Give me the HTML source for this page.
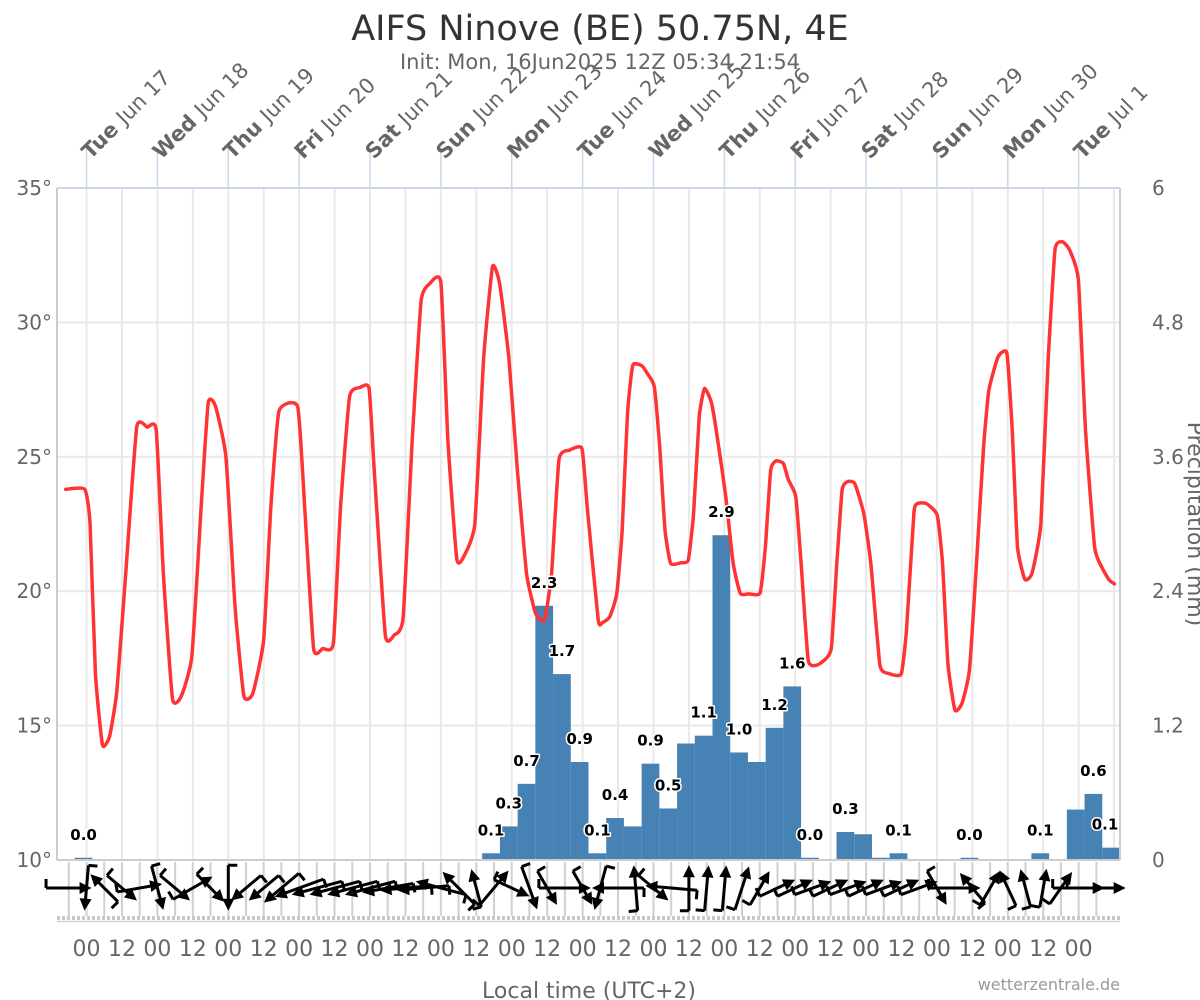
<!DOCTYPE html>
<html><head><meta charset="utf-8"><title>AIFS Ninove</title>
<style>
html,body{margin:0;padding:0;background:#fff;}
svg{display:block;font-family:"DejaVu Sans","Liberation Sans",sans-serif;}
</style></head>
<body>
<svg id="chart" width="1200" height="1000" viewBox="0 0 1200 1000" xmlns="http://www.w3.org/2000/svg">
<rect x="0" y="0" width="1200" height="1000" fill="#fff"/>
<text x="600" y="40" text-anchor="middle" font-size="35" fill="#333">AIFS Ninove (BE) 50.75N, 4E</text>
<text x="600" y="69" text-anchor="middle" font-size="21" fill="#666">Init: Mon, 16Jun2025 12Z 05:34 21:54</text>
<g id="grid"></g>
<g id="bars"></g>
<g id="temp"></g>
<g id="barlabels"></g>
<g id="wind"></g>
<g id="axes"></g>
<text x="589" y="998" text-anchor="middle" font-size="22" fill="#666">Local time (UTC+2)</text>
<text x="1120" y="990" text-anchor="end" font-size="16" fill="#999">wetterzentrale.de</text>
<text transform="translate(1188,524) rotate(90)" text-anchor="middle" font-size="22" fill="#666">Precipitation (mm)</text>
</svg>
<script>
// ---- data ----
const tempHours = [2.95,9.4,11.2,13.0,15.4,17.8,20.3,23.3,27.0,30.6,33.6,36.0,39.1,42.1,45.7,48.8,51.2,53.6,57.2,60.3,63.3,66.3,70.0,72.4,75.2,81.5,83.9,86.9,90.0,93.6,96.0,99.1,102.7,105.7,107.5,111.2,114.2,117.2,120.3,123.3,126.3,130.0,132.4,135.4,137.8,141.5,144.5,147.5,149.9,153.0,156.0,159.0,162.1,165.1,167.5,170.0,173.6,177.8,179.6,183.3,
184.7,187.2,189.6,191.4,193.2,195.0,198.1,199.9,202.3,204.1,205.9,207.8,211.4,213.8,215.6,217.5,219.3,221.7,224.1,226.5,229.0,231.4,234.4,238.1,239.9,241.7,243.5,246.0,247.7,250.2,252.0,254.4,257.4,260.5,262.3,264.1,265.9,267.8,270.2,273.2,275.6,278.7,281.7,285.9,287.7,290.2,291.4,294.4,298.1,299.9,301.7,304.1,306.5,309.0,311.4,313.8,315.6,318.7,321.7,323.5,325.3,327.8,330.2,333.2,335.6,338.0,340.5,342.9,345.9,348.3,351.4,353.8,356.3,358.1];
const temps = [23.79,23.79,22.5,16.95,14.28,14.6,16.3,20.7,26.1,26.1,26.0,20.7,16.0,16.1,17.6,23.1,27.0,26.9,25.0,19.4,16.1,16.2,18.2,23.1,26.7,26.86,23.1,17.87,17.87,18.06,23.1,27.24,27.58,27.54,24.4,18.37,18.37,19.0,25.6,30.8,31.45,31.48,25.6,21.2,21.3,22.5,28.7,32.07,31.45,28.7,24.4,20.67,19.17,18.93,20.67,24.9,25.25,25.3,23.1,18.93,
18.83,19.05,19.92,22.28,26.6,28.4,28.38,28.1,27.6,25.38,22.28,21.04,21.06,21.16,22.9,26.49,27.54,26.99,25.37,23.51,21.04,19.92,19.9,19.94,21.65,24.5,24.85,24.75,24.14,23.51,21.04,17.44,17.25,17.5,17.93,21.04,23.77,24.08,24.0,22.9,21.04,17.25,16.94,16.92,18.56,22.9,23.26,23.26,22.83,21.04,17.32,15.58,15.83,17.07,21.04,25.37,27.48,28.72,28.85,26.0,21.65,20.44,20.67,22.52,28.48,32.7,33.0,32.7,31.58,26.0,21.65,20.9,20.42,20.27];
const precipIndex = [1,24,25,26,27,28,29,30,31,32,33,34,35,36,37,38,39,40,41,42,44,45,46,47,51,55,57,58,59];
const precipValues = [0.02,0.06,0.30,0.68,2.27,1.66,0.875,0.06,0.375,0.30,0.86,0.46,1.04,1.11,2.9,0.96,0.875,1.18,1.55,0.02,0.25,0.23,0.02,0.06,0.02,0.06,0.45,0.59,0.11];
const precipShowLabel = [1,1,1,1,1,1,1,1,1,0,1,1,0,1,1,1,0,1,1,1,1,0,0,1,1,1,0,1,1];
const windDir = [0,95,-135,40,-10,75,40,-30,45,90,140,140,140,160,165,165,165,165,170,175,175,195,-135,-105,-50,25,70,60,0,60,105,180,-95,40,185,-90,-85,-85,-72,-60,-25,-25,-20,-25,-20,-25,-20,-25,-20,60,0,-130,-60,-115,-105,-80,-55,0,0];
const windSpeed = [7,7,6,6,7,7,6,7,6,7,6,6,7,8,8,8,8,8,8,8,8,8,7,6,7,6,7,6,8,6,7,8,7,6,8,7,7,7,7,6,6,6,6,6,6,6,6,6,6,6,8,6,6,6,6,6,6,8,9];
const tempTicks = [10,15,20,25,30,35];
const precipTicks = ["0","1.2","2.4","3.6","4.8","6"];
const dayNames = ["Tue","Wed","Thu","Fri","Sat","Sun","Mon","Tue","Wed","Thu","Fri","Sat","Sun","Mon","Tue"];
const dayDates = ["Jun 17","Jun 18","Jun 19","Jun 20","Jun 21","Jun 22","Jun 23","Jun 24","Jun 25","Jun 26","Jun 27","Jun 28","Jun 29","Jun 30","Jul 1"];
const hourLabels = ["00","12"];

// ---- axes ----
const X0 = 57, X1 = 1120, Y0 = 188, Y1 = 860, HOURS = 360;
const xH = h => X0 + h * (X1 - X0) / HOURS;
const yT = t => Y1 - (t - 10) * (Y1 - Y0) / 25;
const yP = p => Y1 - p * (Y1 - Y0) / 6;
const NS = "http://www.w3.org/2000/svg";
function mk(tag, attrs, parent){ const e=document.createElementNS(NS,tag); for(const k in attrs) e.setAttribute(k,attrs[k]); parent.appendChild(e); return e; }

const grid = document.getElementById('grid');
const axes = document.getElementById('axes');
tempTicks.forEach((t,i)=>{
  const l = mk('line',{x1:X0,x2:X1,y1:yT(t),y2:yT(t),stroke:'#e9e9e9','stroke-width':2},grid);
  
  
  const tx = mk('text',{x:52,y:yT(t)+7,'text-anchor':'end','font-size':20,fill:'#666'},axes);
  tx.textContent = t + '°';
  
  
  const rx = mk('text',{x:1152,y:yP(i*1.2)+7,'text-anchor':'start','font-size':20,fill:'#666'},axes);
  rx.textContent = precipTicks[i];
  
  
});
for(let h=10; h<HOURS; h+=12){
  const l = mk('line',{x1:xH(h),x2:xH(h),y1:Y0,y2:Y1,stroke:'#e9e9e9','stroke-width':2},grid);
  
  
}
for(let h=10, i=0; h<=346; h+=12, i++){
  const t = mk('text',{x:xH(h),y:956,'text-anchor':'middle','font-size':22,fill:'#666'},axes);
  t.textContent = hourLabels[i%2];
  
  
}
dayNames.forEach((d,i)=>{
  const x = xH(10 + 24*i);
  const l = mk('line',{x1:x,x2:x,y1:148,y2:Y0,stroke:'#ccd6eb','stroke-width':1.5},axes);
  
  
  const t = mk('text',{transform:`translate(${x+4},160) rotate(-45)`,'font-size':21,fill:'#666'},axes);
  
  
  const b = mk('tspan',{'font-weight':'bold'},t); b.textContent = d + ' ';
  const n = mk('tspan',{},t); n.textContent = dayDates[i];
});
const fr = [[X0,Y0,X0,Y1,'#ccc'],[X1,Y0,X1,Y1,'#ccc'],[X0,Y0,X1,Y0,'#ccd6eb'],[X0,Y1,X1,Y1,'#ccc']];
fr.forEach(f=>{
  const l = mk('line',{x1:f[0],y1:f[1],x2:f[2],y2:f[3],stroke:f[4],'stroke-width':2},axes);
  
  
});

// ---- precipitation bars ----
const bars = document.getElementById('bars');
const labs = document.getElementById('barlabels');
precipIndex.forEach((k,i)=>{
  const v = precipValues[i];
  const xa = xH(k*6), xb = xH((k+1)*6);
  const r = mk('rect',{x:xa,y:yP(v),width:xb-xa,height:Y1-yP(v),fill:'#4682b4'},bars);
  
  
  if(precipShowLabel[i]){
    const lx = Math.min((xa+xb)/2, X1-15);
    const t = mk('text',{x:lx,y:yP(v)-18,'text-anchor':'middle','font-size':15,'font-weight':'bold',fill:'#000',stroke:'#fff','stroke-width':3,'paint-order':'stroke','stroke-linejoin':'round'},labs);
    t.textContent = v.toFixed(1);
    
    
  }
});

// ---- temperature line ----
const pts = tempHours.map((h,i)=>[xH(h), yT(temps[i])]);
let d = `M${pts[0][0]},${pts[0][1]}`;
for(let i=0;i<pts.length-1;i++){
  const p0 = pts[Math.max(0,i-1)], p1 = pts[i], p2 = pts[i+1], p3 = pts[Math.min(pts.length-1,i+2)];
  const s = 0.08;
  const c1 = [p1[0]+(p2[0]-p0[0])*s, p1[1]+(p2[1]-p0[1])*s];
  const c2 = [p2[0]-(p3[0]-p1[0])*s, p2[1]-(p3[1]-p1[1])*s];
  d += ` C${c1[0].toFixed(1)},${c1[1].toFixed(1)} ${c2[0].toFixed(1)},${c2[1].toFixed(1)} ${p2[0].toFixed(1)},${p2[1].toFixed(1)}`;
}
const tl = mk('path',{d:d,fill:'none',stroke:'#ff3333','stroke-width':3.5,'stroke-linejoin':'round','stroke-linecap':'round'},document.getElementById('temp'));



// ---- wind area ----
const wind = document.getElementById('wind');
for(let k=0;k<windDir.length;k++){
  const x = xH(4 + 6*k);
  const l = mk('line',{x1:x,x2:x,y1:862,y2:916,stroke:'#d0d0d0','stroke-width':2},wind);
  
  
}
const band = mk('line',{x1:X0,x2:X1,y1:918,y2:918,stroke:'#c8c8c8','stroke-width':4,'stroke-dasharray':'3 2'},wind);


const bl = mk('line',{x1:X0,x2:X1,y1:921.5,y2:921.5,stroke:'#ccd6eb','stroke-width':1.5},wind);


windDir.forEach((a,k)=>{
  const cx = xH(4 + 6*k), cy = 888;
  const L = windSpeed[k]*6.5;
  const g = mk('g',{transform:`translate(${cx.toFixed(1)},${cy}) rotate(${a})`},wind);
  
  
  mk('line',{x1:-L/2,y1:0,x2:L/2-6,y2:0,stroke:'#000','stroke-width':3},g);
  mk('polygon',{points:`${L/2},0 ${L/2-12},-6 ${L/2-12},6`,fill:'#000'},g);
  mk('line',{x1:-L/2,y1:0,x2:-L/2,y2:-9,stroke:'#000','stroke-width':3},g);
});
</script>
</body></html>
